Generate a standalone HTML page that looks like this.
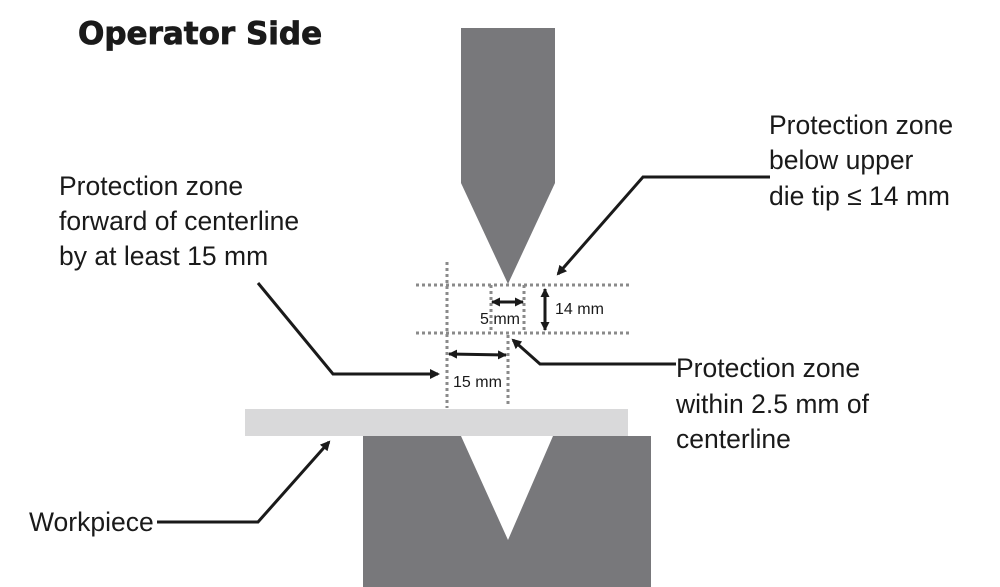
<!DOCTYPE html>
<html><head><style>
body{margin:0;background:#fff;width:1000px;height:587px;overflow:hidden;}
svg{display:block}
text{font-family:"Liberation Sans",Arial,sans-serif;fill:#1a1a1a}
</style></head><body>
<svg width="1000" height="587" viewBox="0 0 1000 587" xmlns="http://www.w3.org/2000/svg">
<defs>
<marker id="a" markerWidth="10" markerHeight="10" refX="8" refY="5" orient="auto" markerUnits="userSpaceOnUse" viewBox="0 0 10 10">
<path d="M0,0 L10,5 L0,10 z" fill="#1a1a1a"/></marker>
<marker id="b" markerWidth="9" markerHeight="9" refX="8" refY="4.5" orient="auto-start-reverse" markerUnits="userSpaceOnUse" viewBox="0 0 9 9">
<path d="M0,0 L9,4.5 L0,9 z" fill="#1a1a1a"/></marker>
</defs>
<text x="78" y="44" font-size="31" font-weight="bold" style="font-family:'DejaVu Sans',sans-serif" stroke="#1a1a1a" stroke-width="0.8">Operator Side</text>
<polygon points="461,28 555,28 555,183 508,284 461,183" fill="#78787b"/>
<rect x="245" y="409" width="383" height="27" fill="#d9d9da"/>
<polygon points="363,436 461,436 508,540 553,436 651,436 651,587 363,587" fill="#78787b"/>
<g stroke="#8a8a8a" stroke-width="3" stroke-dasharray="3,3" fill="none">
<line x1="416" y1="285" x2="630" y2="285"/>
<line x1="416" y1="333" x2="630" y2="333"/>
<line x1="447" y1="262" x2="447" y2="408"/>
<line x1="508" y1="335" x2="508" y2="405"/>
<line x1="491" y1="285" x2="491" y2="333"/>
<line x1="524" y1="285" x2="524" y2="333"/>
</g>
<g stroke="#1a1a1a" stroke-width="3" fill="none">
<line x1="545" y1="289" x2="545" y2="330" marker-start="url(#b)" marker-end="url(#b)"/>
<line x1="492" y1="302" x2="523" y2="302" marker-start="url(#b)" marker-end="url(#b)"/>
<line x1="449" y1="354" x2="506" y2="355" marker-start="url(#b)" marker-end="url(#b)"/>
</g>
<text x="555" y="314" font-size="16">14 mm</text>
<text x="480" y="324" font-size="16">5 mm</text>
<text x="453" y="387" font-size="16">15 mm</text>
<g stroke="#1a1a1a" stroke-width="3" fill="none">
<polyline points="770,177 643,177 558,274" marker-end="url(#a)"/>
<polyline points="258,283 333,374 438,374" marker-end="url(#a)"/>
<polyline points="676,364 540,364 513,340" marker-end="url(#a)"/>
<polyline points="157,522 258,522 329,442" marker-end="url(#a)"/>
</g>
<g font-size="26.5">
<text x="769" y="134">Protection zone</text>
<text x="769" y="169">below upper</text>
<text x="769" y="205">die tip ≤ 14 mm</text>
<text x="59" y="195">Protection zone</text>
<text x="59" y="230">forward of centerline</text>
<text x="59" y="265">by at least 15 mm</text>
<text x="676" y="377">Protection zone</text>
<text x="676" y="413">within 2.5 mm of</text>
<text x="676" y="448">centerline</text>
<text x="29" y="531">Workpiece</text>
</g>
</svg>
</body></html>
